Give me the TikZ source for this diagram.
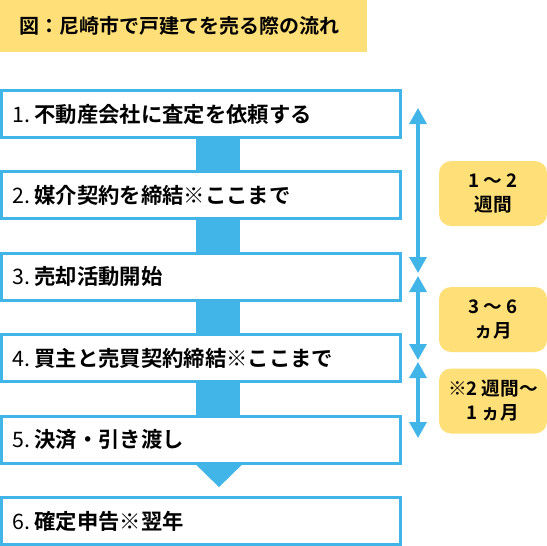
\documentclass[tikz,border=0pt]{standalone}
\usepackage{fontspec}
\setmainfont{Noto Sans CJK JP}[BoldFont={Noto Sans CJK JP Bold}]
\usetikzlibrary{arrows.meta,calc}
\definecolor{flowblue}{RGB}{66,181,232}
\definecolor{noteyellow}{RGB}{255,223,120}
\newcommand{\stepnum}[1]{#1.\kern3.5pt}
\tikzset{
  titlebox/.style={fill=noteyellow,minimum width=275.25pt,minimum height=39pt,
    inner xsep=15pt,inner ysep=0pt,text width=245.25pt,align=left,
    font=\bfseries\fontsize{15pt}{18pt}\selectfont},
  stepbox/.style={draw=flowblue,line width=2.25pt,fill=white,
    minimum width=299.25pt,minimum height=35.25pt,inner xsep=8pt,inner ysep=0pt,
    text width=283.25pt,align=left,font=\fontsize{16pt}{18pt}\selectfont},
  notebox/.style={fill=noteyellow,rounded corners=9pt,minimum width=81pt,
    minimum height=48.75pt,inner sep=0pt,align=center,
    font=\bfseries\fontsize{14pt}{18pt}\selectfont},
  span/.style={draw=flowblue,line width=2.4pt,
    {Triangle[width=12.75pt,length=12pt]}-{Triangle[width=12.75pt,length=12pt]}}
}
\begin{document}
\begin{tikzpicture}
	[x=0.75pt,y=-0.75pt]
	\useasboundingbox (0,0) rectangle (547,546);

	\node[titlebox] (title) at (183.5,26) {図：尼崎市で戸建てを売る際の流れ};

	\node[stepbox] (b1) at (201,114) {\stepnum{1}\textbf{不動産会社に査定を依頼する}};
	\node[stepbox] (b2) at (201,195.4) {\stepnum{2}\textbf{媒介契約を締結}※\textbf{ここまで}};
	\node[stepbox] (b3) at (201,276.8) {\stepnum{3}\textbf{売却活動開始}};
	\node[stepbox] (b4) at (201,358.2) {\stepnum{4}\textbf{買主と売買契約締結}※\textbf{ここまで}};
	\node[stepbox] (b5) at (201,439.6) {\stepnum{5}\textbf{決済・引き渡し}};
	\node[stepbox] (b6) at (201,521) {\stepnum{6}\textbf{確定申告}※\textbf{翌年}};

	\fill[flowblue] ($(b1.south)+(-5,0)$) rectangle ($(b2.north)+(39,0)$);
	\fill[flowblue] ($(b2.south)+(-5,0)$) rectangle ($(b3.north)+(39,0)$);
	\fill[flowblue] ($(b3.south)+(-5,0)$) rectangle ($(b4.north)+(39,0)$);
	\fill[flowblue] ($(b4.south)+(-5,0)$) rectangle ($(b5.north)+(39,0)$);
	\fill[flowblue] ($(b5.south)+(-5,0)$) -- ($(b5.south)+(41,0)$)
		-- ($(b5.south)+(18,22.5)$) -- cycle;

	\coordinate (s1) at (418,108);
	\coordinate (e1) at (418,273);
	\coordinate (s2) at (418,276);
	\coordinate (e2) at (418,360);
	\coordinate (s3) at (418,362);
	\coordinate (e3) at (418,438);
	\draw[span] (s1) -- (e1);
	\draw[span] (s2) -- (e2);
	\draw[span] (s3) -- (e3);

	\node[notebox] (n1) at (493,193.5) {1 〜 2\\週間};
	\node[notebox] (n2) at (493,319.5) {3 〜 6\\ヵ月};
	\node[notebox] (n3) at (493,401) {※2 週間〜\\1 ヵ月};

\end{tikzpicture}
\end{document}
